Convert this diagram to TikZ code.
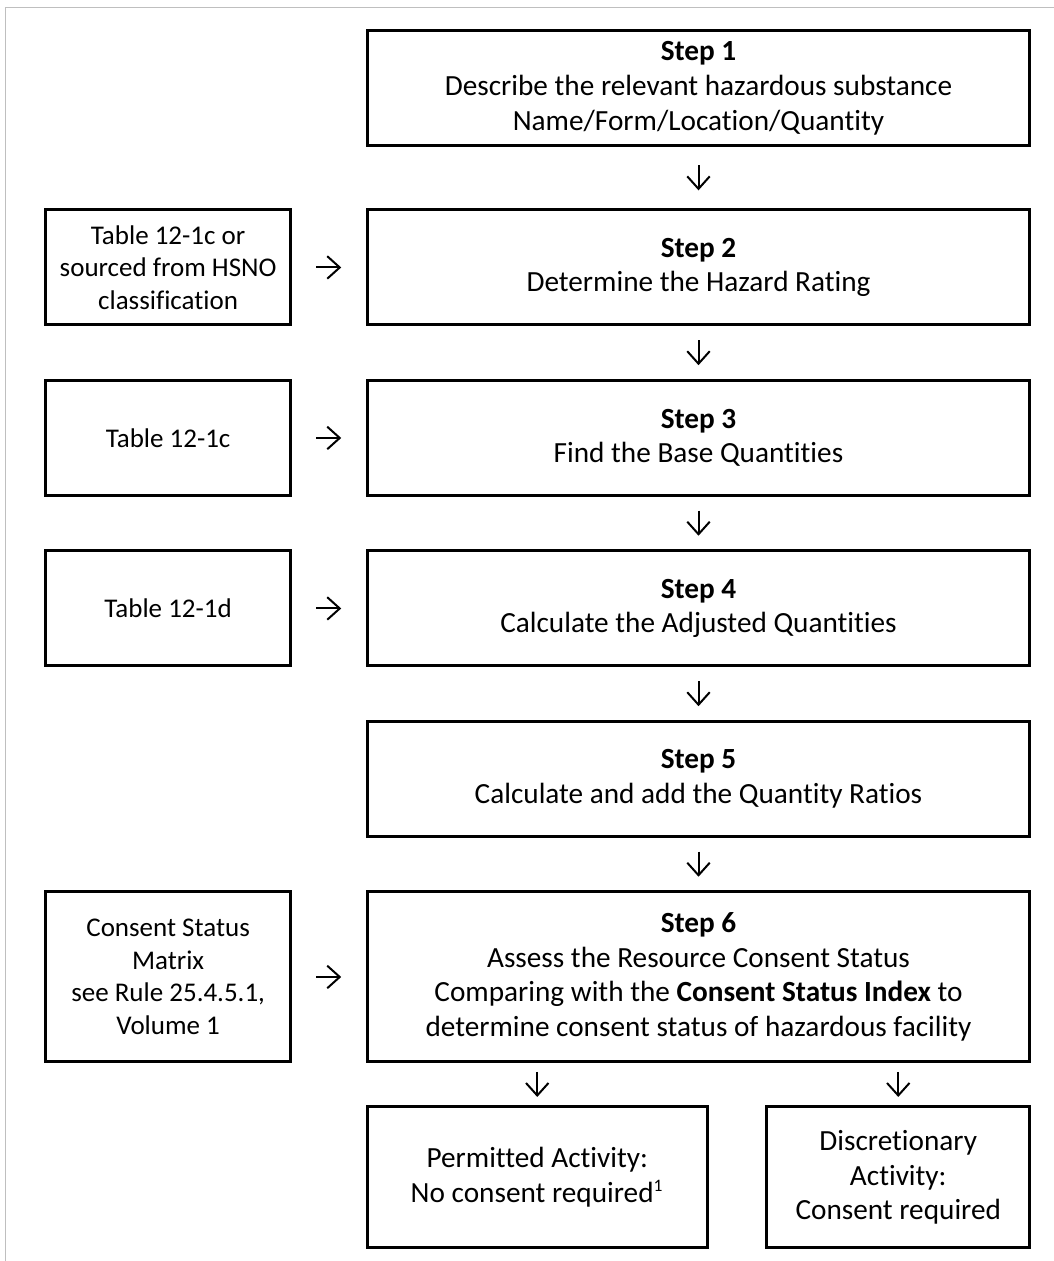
\documentclass[tikz,border=0pt]{standalone}
\usepackage{fontspec}
\setmainfont[Ligatures=NoCommon]{Carlito}
\usetikzlibrary{arrows.meta,positioning}
\tikzset{stepbox/.style={
    % The shape:
    rectangle,
    % The size:
    minimum width=265pt,
    minimum height=46pt,
    inner sep=2pt,
    outer sep=0pt,
    % The border:
    line width=1.2pt,
    draw=black,
    % Font
    font=\fontsize{11.7}{13.9}\selectfont,
    align=center
    },
    sourcebox/.style={
    rectangle,
    minimum width=97.7pt,
    minimum height=46pt,
    inner sep=2pt,
    outer sep=0pt,
    line width=1.2pt,
    draw=black,
    font=\fontsize{10.8}{13}\selectfont,
    align=center
    },
    flow/.style={
    -{Straight Barb[length=5pt,width=9pt]},
    line width=0.8pt,
    shorten <=#1, shorten >=#1
    },
    flow/.default=6.1pt,
}

\begin{document}
\begin{tikzpicture}[x=0.4pt, y=-0.4pt, node distance=22.2pt and 30.8pt]
    \useasboundingbox (0,0) rectangle (1054,1261);
    % page edge
    \draw[line width=0.6pt, black!25] (5.3,1261) -- (5.3,7.3) -- (1054,7.3);

    \node (step1) [stepbox] at (698.5,88.2) {\textbf{Step 1}\\Describe the relevant hazardous substance\\Name/Form/Location/Quantity};
    \node (step2) [stepbox,below=25.7pt of step1] {\textbf{Step 2}\\Determine the Hazard Rating};
    \node (step3) [stepbox,below=of step2] {\textbf{Step 3}\\Find the Base Quantities};
    \node (step4) [stepbox,below=of step3] {\textbf{Step 4}\\Calculate the Adjusted Quantities};
    \node (step5) [stepbox,below=of step4] {\textbf{Step 5}\\Calculate and add the Quantity Ratios};
    \node (step6) [stepbox,below=of step5,minimum height=68pt] {\textbf{Step 6}\\Assess the Resource Consent Status\\Comparing with the \textbf{Consent Status Index} to\\determine consent status of hazardous facility};

    \node (permitted) [stepbox,minimum width=136pt,minimum height=56.4pt,below=18pt of step6.south west,anchor=north west] {Permitted Activity:\\No consent required\textsuperscript{\scriptsize 1}};
    \node (discretionary) [stepbox,minimum width=105.2pt,minimum height=56.4pt,below=18pt of step6.south east,anchor=north east] {Discretionary\\Activity:\\Consent required};

    \node (hsno)   [sourcebox,left=of step2] {Table 12-1c or\\sourced from HSNO\\classification};
    \node (tablec) [sourcebox,left=of step3] {Table 12-1c};
    \node (tabled) [sourcebox,left=of step4] {Table 12-1d};
    \node (matrix) [sourcebox,left=of step6,minimum height=68pt] {Consent Status\\Matrix\\see Rule 25.4.5.1,\\Volume 1};

    \path (step1) edge[flow=7.85pt] (step2);
    \path (step2) edge[flow] (step3);
    \path (step3) edge[flow] (step4);
    \path (step4) edge[flow] (step5);
    \path (step5) edge[flow] (step6);
    \path (permitted.north |- step6.south) edge[flow=4pt] (permitted.north);
    \path (discretionary.north |- step6.south) edge[flow=4pt] (discretionary.north);

    \path (hsno) edge[flow=10.4pt] (step2);
    \path (tablec) edge[flow=10.4pt] (step3);
    \path (tabled) edge[flow=10.4pt] (step4);
    \path (matrix) edge[flow=10.4pt] (step6);
\end{tikzpicture}
\end{document}
